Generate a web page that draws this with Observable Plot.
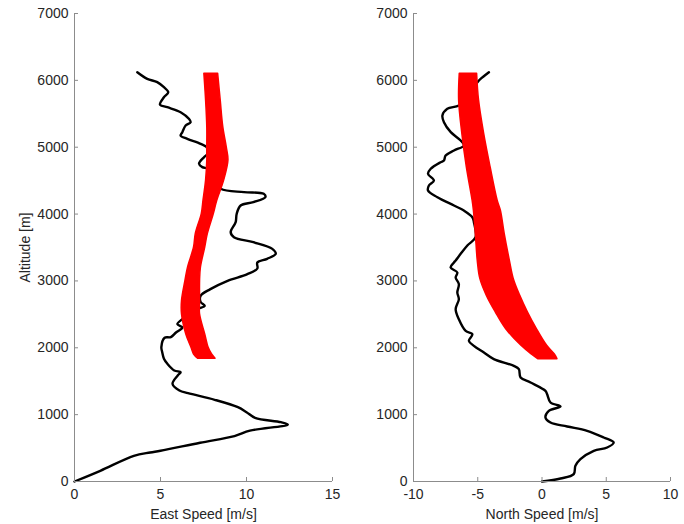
<!DOCTYPE html>
<html><head><meta charset="utf-8">
<script src="https://cdn.jsdelivr.net/npm/d3@7"></script>
<script src="https://cdn.jsdelivr.net/npm/@observablehq/plot@0.6"></script>
<style>
body{margin:0;background:#fff;}
#wrap{display:flex;width:684px;height:524px;}
</style>
</head><body><div id="wrap"></div>
<script>
// Tick values
const altTicks = [0, 1000, 2000, 3000, 4000, 5000, 6000, 7000];
const eastTicks = [0, 5, 10, 15];
const northTicks = [-10, -5, 0, 5, 10];

// Measured profile: [speed m/s, altitude m]
const eastProfile = [
  [0,0],[1.5,160],[3.45,384],[4.4,434],[5.0,460],[7.3,580],[9.3,680],[10.2,760],[12.4,852],[12.0,887],
  [10.5,952],[10.0,1037],[9.5,1111],[8.15,1222],[6.6,1321],[6.1,1361],[5.7,1461],[6.0,1585],[6.17,1635],
  [5.8,1660],[5.4,1760],[5.2,1835],[5.1,1934],[5.05,2009],[5.24,2150],[5.6,2160],[5.9,2228],[6.27,2303],
  [5.98,2353],[6.27,2428],[7.14,2577],[7.57,2627],[7.33,2687],[7.33,2777],[7.9,2877],[8.9,3002],[10.05,3101],
  [10.63,3186],[10.63,3276],[11.2,3331],[11.7,3405],[11.5,3480],[10.4,3579],[9.27,3654],[9.08,3729],
  [9.37,3879],[9.43,4004],[9.66,4128],[10.4,4178],[11.1,4253],[11.0,4303],[9.85,4328],[8.5,4378],
  [8.1,4500],[7.9,4620],[7.76,4677],[7.43,4702],[7.24,4752],[7.53,4851],[7.72,4901],[7.68,5000],
  [7.33,5051],[6.56,5125],[6.17,5175],[6.27,5225],[6.46,5325],[6.75,5374],[6.65,5424],[6.17,5524],
  [5.4,5598],[4.97,5638],[5.2,5748],[5.45,5823],[5.2,5897],[4.81,5973],[4.23,6023],[3.65,6122]
];
const northProfile = [
  [0,0],[1.44,45],[2.47,110],[2.6,234],[2.99,334],[4.03,459],[5.07,508],[5.58,583],[4.8,658],[3.51,758],
  [1.96,823],[0.66,882],[0.27,957],[0.53,1057],[1.44,1122],[0.66,1182],[0.4,1306],[0.27,1356],[-0.89,1481],
  [-1.67,1556],[-1.8,1680],[-2.19,1730],[-3.75,1830],[-4.52,1929],[-5.3,2029],[-5.69,2104],[-5.42,2203],
  [-5.94,2253],[-6.47,2428],[-6.72,2577],[-6.47,2727],[-6.59,2827],[-6.47,2952],[-6.72,3051],[-6.59,3126],
  [-7.11,3201],[-6.85,3276],[-6.72,3306],[-6.33,3405],[-5.81,3530],[-5.17,3654],[-5.3,3879],[-5.42,3953],
  [-6.08,4053],[-6.85,4128],[-8.14,4252],[-8.87,4352],[-8.8,4427],[-8.41,4502],[-8.87,4602],[-8.66,4677],
  [-7.89,4776],[-7.63,4801],[-7.5,4876],[-6.85,4951],[-6.08,5026],[-6.33,5100],[-7.1,5225],[-7.63,5374],
  [-7.75,5474],[-7.37,5574],[-6.47,5624],[-5.8,5750],[-5.3,5900],[-4.91,5998],[-4.78,6023],[-4.13,6122]
];

// Ensemble spread (red band): [altitude m, low speed, high speed]
const eastBand = [
  [1835,7.2,8.2],[1900,6.95,8.0],[2000,6.8,7.8],[2200,6.5,7.6],[2500,6.25,7.3],[2700,6.25,7.3],
  [3000,6.45,7.3],[3200,6.6,7.35],[3500,6.95,7.6],[3700,7.05,7.75],[4000,7.4,8.1],[4200,7.5,8.3],
  [4500,7.65,8.7],[4800,7.72,8.95],[5000,7.72,8.85],[5300,7.72,8.65],[5700,7.65,8.5],[6100,7.55,8.35]
];
const northBand = [
  [1830,-0.3,1.2],[1900,-0.8,1.0],[2030,-1.6,0.4],[2280,-2.8,-0.4],[2530,-3.6,-1.1],[2780,-4.3,-1.7],
  [3030,-4.8,-2.2],[3300,-5.0,-2.5],[3700,-5.15,-2.9],[4050,-5.3,-3.2],[4200,-5.4,-3.45],[4700,-5.85,-4.0],
  [5200,-6.2,-4.5],[5700,-6.45,-4.9],[6100,-6.4,-5.05]
];

const H = 524, MT = 13, MB = 43;
function panel({width, marginLeft, marginRight, xDomain, xTicks, xLabel, yLabel, profile, band}) {
  const fw = width - marginLeft - marginRight;
  const fh = H - MT - MB;
  return Plot.plot({
    width, height: H, marginLeft, marginRight, marginTop: MT, marginBottom: MB,
    style: {fontFamily: "'Liberation Sans', Arial, sans-serif", fontSize: "14px", color: "#262626", background: "#fff"},
    x: {domain: xDomain},
    y: {domain: [0, 7000]},
    marks: [
      Plot.line(profile, {x: d => d[0], y: d => d[1], stroke: "#000", strokeWidth: 2.4, curve: "catmull-rom"}),
      Plot.areaX(band, {y: d => d[0], x1: d => d[1], x2: d => d[2], fill: "#ff0000", stroke: "#f00", strokeWidth: 1.5, curve: "catmull-rom"}),
      Plot.ruleX([xDomain[0]], {stroke: "#8c8c8c"}),
      Plot.ruleY([0], {stroke: "#8c8c8c"}),
      Plot.tickY(altTicks, {y: d => d, stroke: "#8c8c8c", insetRight: fw - 4}),
      Plot.tickX(xTicks, {x: d => d, stroke: "#8c8c8c", insetTop: fh - 4}),
      Plot.axisX({ticks: xTicks, tickSize: 0, tickPadding: 8, tickFormat: d => String(d), label: xLabel, labelArrow: "none", labelAnchor: "center", labelOffset: 37}),
      Plot.axisY({ticks: altTicks, tickSize: 0, tickPadding: 6, tickFormat: d => String(d), label: yLabel, labelArrow: "none", labelAnchor: "center", labelOffset: 54})
    ]
  });
}

const wrap = document.getElementById("wrap");
wrap.append(panel({width: 342, marginLeft: 74, marginRight: 10, xDomain: [0, 15], xTicks: eastTicks,
  xLabel: "East Speed [m/s]", yLabel: "Altitude [m]", profile: eastProfile, band: eastBand}));
wrap.append(panel({width: 342, marginLeft: 71, marginRight: 14, xDomain: [-10, 10], xTicks: northTicks,
  xLabel: "North Speed [m/s]", yLabel: null, profile: northProfile, band: northBand}));
</script>
</body></html>
